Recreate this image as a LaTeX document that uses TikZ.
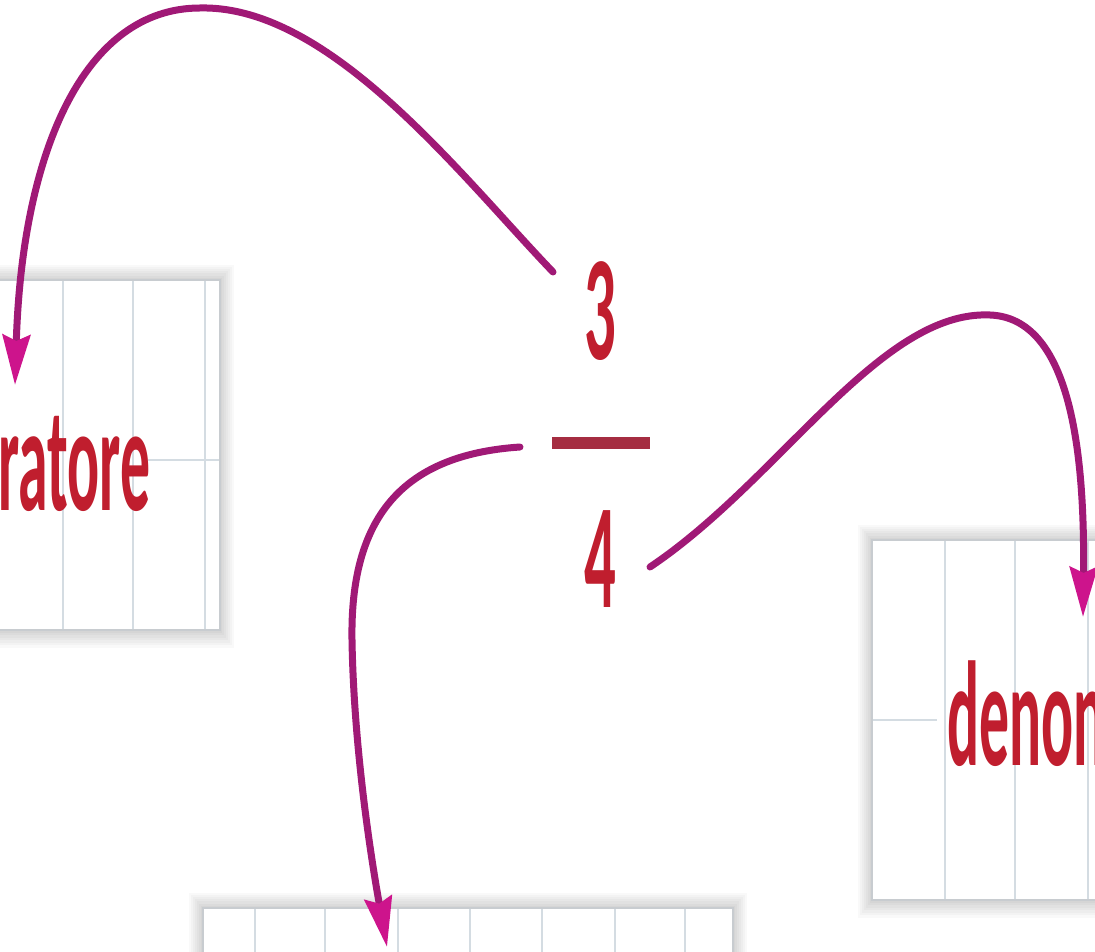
\documentclass[tikz,border=0pt]{standalone}
\usepackage{fontspec}
\setmainfont{Carlito}
\usepackage{graphicx}
\usetikzlibrary{arrows.meta}
\definecolor{txtred}{RGB}{192,30,46}
\definecolor{barred}{RGB}{165,45,65}
\definecolor{arrowc}{RGB}{160,25,118}
\definecolor{tipc}{RGB}{205,20,140}
\definecolor{gridc}{RGB}{212,220,226}
\definecolor{edgec}{RGB}{200,204,208}
\tikzset{
  big/.style={inner sep=0pt, text=txtred, font=\fontsize{85}{90}\selectfont\bfseries},
  curvearrow/.style={draw=arrowc, line width=0.14cm, line cap=round,
    -{Stealth[length=1.0cm,width=0.55cm,inset=0.12cm,color=tipc]}},
  gridline/.style={draw=gridc, line width=0.04cm},
  boxedge/.style={draw=edgec, line width=0.03cm, fill=white},
  fracbar/.style={fill=barred, inner sep=0pt, minimum width=1.96cm, minimum height=0.25cm}
}
\begin{document}
\begin{tikzpicture}[x=0.02cm,y=-0.02cm]
\useasboundingbox (0,0) rectangle (1095,952);
\clip (0,0) rectangle (1095,952);
\fill[white] (0,0) rectangle (1095,952);
% boxes with soft shadows
\foreach \xa/\ya/\xb/\yb in {-20/280/220/630, 872/540/1130/900, 203/908/733/1000}{
  \foreach \i in {1,...,7}{
    \fill[black,opacity=0.025] ({\xa-\i*2},{\ya-\i*2.2}) rectangle ({\xb+\i*2},{\yb+\i*2.5});
  }
  \filldraw[boxedge] (\xa,\ya) rectangle (\xb,\yb);
}
% grid lines
\foreach \x in {63,133,205} \draw[gridline] (\x,281) -- (\x,629);
\draw[gridline] (148,460) -- (219,460);
\foreach \x in {945,1015,1088} \draw[gridline] (\x,541) -- (\x,899);
\draw[gridline] (873,720) -- (937,720);
\foreach \x in {255,325,398,470,542,615,685} \draw[gridline] (\x,909) -- (\x,952);
% texts
\node[big, anchor=base west] (num) at (-2,510) {\scalebox{0.40}[1]{ratore}};
\node[big, anchor=base west] (den) at (947,765) {\scalebox{0.40}[1]{denon}};
\node[big, anchor=base] (three) at (600,360) {\scalebox{0.42}[1]{3}};
\node[big, anchor=base] (four) at (600,607) {\scalebox{0.42}[1]{4}};
\node[fracbar] (bar) at (601,443) {};
% arrow end points
\coordinate (a1s) at (553,272);
\coordinate (a1e) at (15,385);
\coordinate (a2s) at (520,447);
\coordinate (a2e) at (387,947);
\coordinate (a3s) at (650,567);
\coordinate (a3e) at (1083,617);
% arrows
\draw[curvearrow] (a1s) .. controls (460,175) and (330,5) .. (200,8)
  .. controls (85,8) and (22,150) .. (a1e);
\draw[curvearrow] (a2s) .. controls (400,455) and (350,520) .. (352,640)
  .. controls (354,760) and (375,880) .. (a2e);
\draw[curvearrow] (a3s) .. controls (780,480) and (880,310) .. (990,315)
  .. controls (1070,318) and (1085,450) .. (a3e);
\end{tikzpicture}
\end{document}
